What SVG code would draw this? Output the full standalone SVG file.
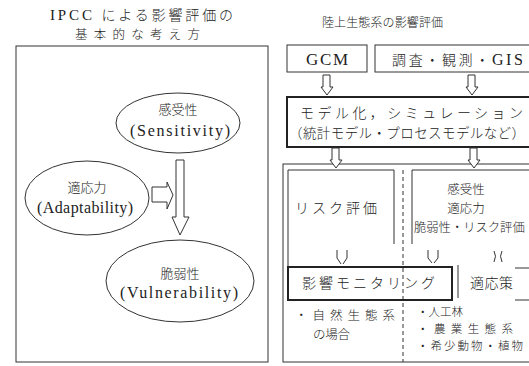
<svg xmlns="http://www.w3.org/2000/svg" width="529" height="366" viewBox="0 0 529 366" font-size="14">
<style>
text{font-family:"Liberation Serif","Noto Sans CJK JP",serif;fill:#222}
.jp{font-family:"Noto Sans CJK JP","Liberation Serif",serif;font-weight:300}
.ln{fill:none;stroke:#333;stroke-width:1}
.thk{fill:none;stroke:#222;stroke-width:2}
.ar{fill:#fff;stroke:#333;stroke-width:1}
</style>
<rect width="529" height="366" fill="#fff"/>

<!-- Left panel -->
<g id="left-title">
<text x="50" y="20" textLength="183" lengthAdjust="spacing" font-size="15">IPCC <tspan class="jp" font-size="14">による影響評価の</tspan></text>
<text class="jp" x="75" y="39" textLength="125" lengthAdjust="spacing" font-size="12.5">基本的な考え方</text>
</g>
<g id="left-frame"><rect class="ln" x="16" y="46" width="252" height="316"/></g>
<g id="sensitivity">
<ellipse class="ln" cx="178" cy="123" rx="62" ry="30"/>
<text class="jp" x="178" y="114" text-anchor="middle" font-size="13">感受性</text>
<text x="130" y="136" textLength="100" lengthAdjust="spacing" font-size="16">(Sensitivity)</text>
</g>
<g id="adaptability">
<ellipse class="ln" cx="87" cy="198" rx="62" ry="37"/>
<text class="jp" x="87" y="192" text-anchor="middle" font-size="13">適応力</text>
<text x="37" y="213" textLength="96" lengthAdjust="spacing" font-size="16">(Adaptability)</text>
</g>
<g id="vulnerability">
<ellipse class="ln" cx="180" cy="281" rx="74" ry="41"/>
<text class="jp" x="180" y="278" text-anchor="middle" font-size="13">脆弱性</text>
<text x="120" y="298" textLength="118" lengthAdjust="spacing" font-size="16">(Vulnerability)</text>
</g>
<g id="left-connectors">
<path class="ar" d="M152,187 H167 V182 L173,195 L167,209 V202 H152 Z"/>
<path class="ar" d="M176,160 H184 V217 H189 L180,235 L172,217 H176 Z"/>
</g>

<!-- Right panel -->
<g id="right-title">
<text class="jp" x="322" y="27" textLength="121" lengthAdjust="spacing" font-size="12">陸上生態系の影響評価</text>
</g>
<g id="gcm">
<rect class="ln" x="287" y="45" width="80" height="27" stroke="#666"/>
<text x="306" y="65" textLength="42" lengthAdjust="spacing" font-size="17">GCM</text>
</g>
<g id="survey">
<rect class="ln" x="375" y="45" width="170" height="27" stroke-width="1.5"/>
<text x="392" y="65" textLength="131" lengthAdjust="spacing" font-size="16"><tspan class="jp" font-size="14">調査・観測・</tspan>GIS</text>
</g>
<g id="model">
<rect class="thk" x="287" y="97" width="260" height="50"/>
<text class="jp" x="300" y="118" textLength="223" lengthAdjust="spacing" font-size="14">モデル化，シミュレーション</text>
<text class="jp" x="289" y="138" textLength="236" lengthAdjust="spacing" font-size="13.5">（統計モデル・プロセスモデルなど）</text>
</g>
<g id="outer-frame">
<rect class="ln" x="283" y="164" width="260" height="198"/>
<line class="ln" x1="403" y1="170" x2="403" y2="362" stroke-width="1.5" stroke-dasharray="4,3"/>
</g>
<g id="risk">
<path class="ln" d="M288,267 V170 H394 V244"/>
<text class="jp" x="295" y="213" textLength="82" lengthAdjust="spacing" font-size="14">リスク評価</text>
</g>
<g id="sens-adapt">
<path class="ln" d="M412,244 V170 H545"/>
<text class="jp" x="466" y="194" text-anchor="middle" font-size="12.5">感受性</text>
<text class="jp" x="466" y="213" text-anchor="middle" font-size="12.5">適応力</text>
<text class="jp" x="414" y="232" font-size="12.3">脆弱性・リスク評価</text>
</g>
<g id="monitoring">
<rect class="thk" x="288" y="267" width="164" height="33"/>
<text class="jp" x="302" y="288" textLength="133" lengthAdjust="spacing" font-size="14">影響モニタリング</text>
</g>
<g id="adaptation">
<path class="ln" d="M458,265 V298"/>
<path class="ln" d="M515,268 H529 M515,300 H529"/>
<text class="jp" x="470" y="288" textLength="43" lengthAdjust="spacing" font-size="14">適応策</text>
</g>
<g id="natural">
<text class="jp" x="295" y="320" textLength="100" lengthAdjust="spacing" font-size="12.5">・自然生態系</text>
<text class="jp" x="313" y="339" textLength="37" lengthAdjust="spacing" font-size="12.5">の場合</text>
</g>
<g id="managed">
<text class="jp" x="417" y="316" font-size="11.5">・人工林</text>
<text class="jp" x="417" y="333" textLength="96" lengthAdjust="spacing" font-size="11.5">・農業生態系</text>
<text class="jp" x="417" y="350" textLength="106" lengthAdjust="spacing" font-size="11.5">・希少動物・植物</text>
</g>
<g id="right-connectors">
<path class="ar" d="M323,75 H330 V87 H333 L327,95 L321,87 H323 Z"/>
<path class="ar" d="M468,75 H475 V87 H478 L472,95 L466,87 H468 Z"/>
<path class="ar" d="M332,148 H339 V160 H342 L336,168 L330,160 H332 Z"/>
<path class="ar" d="M470,148 H477 V160 H480 L474,168 L468,160 H470 Z"/>
<path class="ln" d="M337,250 V258 L341,264 M347,250 V258 L343,264"/>
<path class="ln" d="M428,250 V258 L432,263 M438,250 V258 L434,263"/>
<path class="ln" d="M494,251 Q497,256 494,262 M502,251 Q499,256 502,262"/>
</g>
</svg>
